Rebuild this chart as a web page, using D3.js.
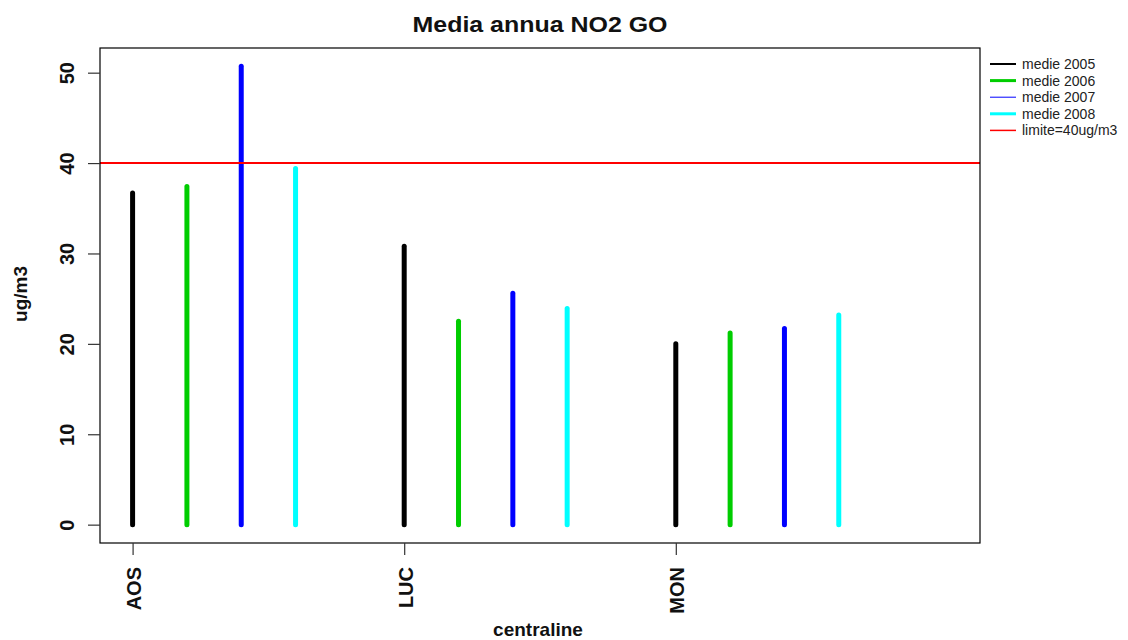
<!DOCTYPE html>
<html><head><meta charset="utf-8">
<script src="https://cdn.jsdelivr.net/npm/d3@7"></script>
<style>
html,body{margin:0;padding:0;background:#fff;}
text{font-family:"Liberation Sans",Arial,Helvetica,sans-serif;}
</style></head>
<body>
<svg id="chart" width="1128" height="640"></svg>
<script>
const categories = ["AOS", "LUC", "MON"];
const seriesNames = ["medie 2005", "medie 2006", "medie 2007", "medie 2008"];
const medie2005 = [36.7, 30.8, 20.0];
const medie2006 = [37.4, 22.5, 21.2];
const medie2007 = [50.7, 25.6, 21.7];
const medie2008 = [39.4, 23.9, 23.2];
const limitValue = 40;
const limitLabel = "limite=40ug/m3";
const yTicks = [0, 10, 20, 30, 40, 50];
const colors = ["#000000", "#00CD00", "#0000FF", "#00FFFF"];
const limitColor = "#FF0000";

const series = [medie2005, medie2006, medie2007, medie2008];
const svg = d3.select("#chart");
const box = {left: 100, right: 980, top: 48, bottom: 543};

const x = d3.scaleLinear().domain([0.4, 16.6]).range([box.left, box.right]);
const y = d3.scaleLinear().domain([-2.03, 52.73]).range([box.bottom, box.top]);

// bars (type "h" lines)
const marks = [];
categories.forEach((c, i) => {
  series.forEach((s, j) => {
    marks.push({pos: 1 + 5 * i + j, value: s[i], color: colors[j]});
  });
});
svg.append("g").selectAll("line").data(marks).join("line")
  .attr("x1", d => x(d.pos)).attr("x2", d => x(d.pos))
  .attr("y1", y(0)).attr("y2", d => y(d.value))
  .attr("stroke", d => d.color).attr("stroke-width", 5)
  .attr("stroke-linecap", "round");

// limit line
svg.append("line")
  .attr("x1", box.left).attr("x2", box.right)
  .attr("y1", y(limitValue)).attr("y2", y(limitValue))
  .attr("stroke", limitColor).attr("stroke-width", 2);

// box
svg.append("rect").attr("x", box.left).attr("y", box.top)
  .attr("width", box.right - box.left).attr("height", box.bottom - box.top)
  .attr("fill", "none").attr("stroke", "#000").attr("stroke-width", 1.2);

// y axis
const yAxis = svg.append("g").attr("transform", `translate(${box.left},0)`)
  .call(d3.axisLeft(y).tickValues(yTicks).tickSize(12).tickSizeOuter(0).tickFormat(d3.format("d")));
yAxis.select(".domain").remove();
yAxis.selectAll(".tick line").attr("stroke", "#333").attr("stroke-width", 1.2);
yAxis.selectAll(".tick text")
  .attr("x", null).attr("dy", null)
  .attr("text-anchor", "middle")
  .attr("transform", "translate(-26,0) rotate(-90)")
  .attr("font-size", 20).attr("font-weight", "bold").attr("fill", "#111")
  .attr("font-family", "Liberation Sans, Arial, sans-serif");

// x axis
const xAxis = svg.append("g").attr("transform", `translate(0,${box.bottom})`)
  .call(d3.axisBottom(x).tickValues(categories.map((c, i) => 1 + 5 * i))
    .tickFormat((d, i) => categories[i]).tickSize(12).tickSizeOuter(0));
xAxis.select(".domain").remove();
xAxis.selectAll(".tick line").attr("stroke", "#333").attr("stroke-width", 1.2);
xAxis.selectAll(".tick text")
  .attr("y", null).attr("dy", null)
  .attr("text-anchor", "end")
  .attr("transform", "translate(8,24) rotate(-90)")
  .attr("font-size", 20).attr("font-weight", "bold").attr("fill", "#111")
  .attr("font-family", "Liberation Sans, Arial, sans-serif");

// title
svg.append("text").attr("x", 540).attr("y", 32).attr("text-anchor", "middle")
  .attr("font-size", 22).attr("font-weight", "bold").attr("fill", "#111")
  .attr("textLength", 255).attr("lengthAdjust", "spacingAndGlyphs")
  .text("Media annua NO2 GO");

// axis titles
svg.append("text").attr("x", 538).attr("y", 636).attr("text-anchor", "middle")
  .attr("font-size", 19).attr("font-weight", "bold").attr("fill", "#111")
  .text("centraline");
svg.append("text").attr("transform", "translate(27,294) rotate(-90)").attr("text-anchor", "middle")
  .attr("font-size", 19).attr("font-weight", "bold").attr("fill", "#111")
  .text("ug/m3");

// legend
const legendItems = seriesNames.map((n, j) => ({label: n, color: colors[j], w: [2, 3, 1, 3][j]}))
  .concat([{label: limitLabel, color: limitColor, w: 1.5}]);
const leg = svg.append("g");
legendItems.forEach((d, k) => {
  const yy = 64 + k * 16.6;
  leg.append("line").attr("x1", 990).attr("x2", 1016).attr("y1", yy).attr("y2", yy)
    .attr("stroke", d.color).attr("stroke-width", d.w);
  leg.append("text").attr("x", 1022).attr("y", yy + 5).attr("font-size", 14)
    .attr("fill", "#222").text(d.label);
});
</script>
</body></html>
